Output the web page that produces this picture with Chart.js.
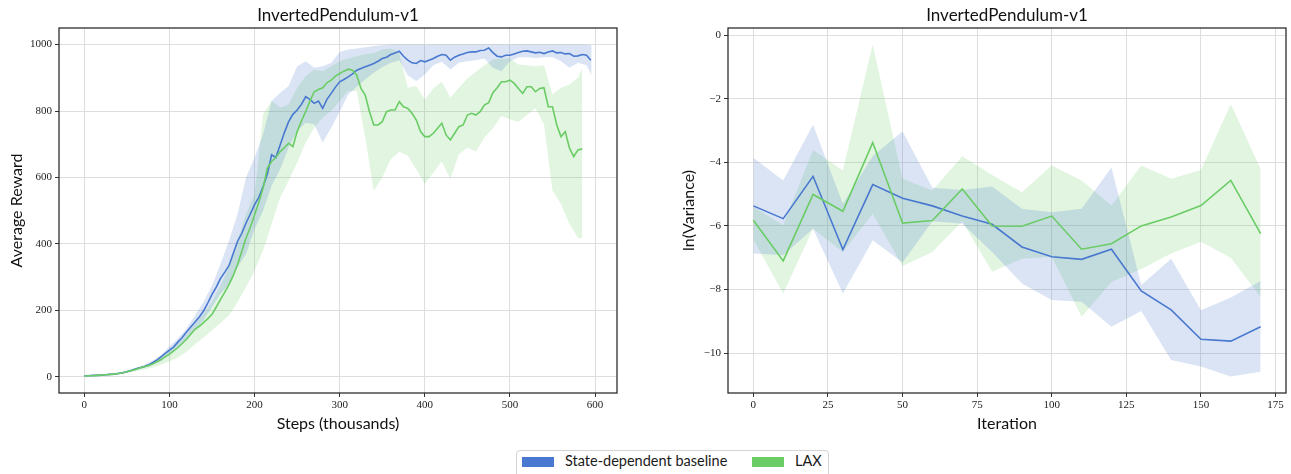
<!DOCTYPE html>
<html><head><meta charset="utf-8">
<script src="https://cdn.jsdelivr.net/npm/chart.js@4.4.1/dist/chart.umd.min.js"></script>
<style>
html,body{margin:0;padding:0;background:#fff;}
#wrap{position:relative;width:1291px;height:474px;overflow:hidden;background:#fff;}
#c1{position:absolute;left:0;top:0;}
#c2{position:absolute;left:650px;top:0;}
#legend{position:absolute;left:516px;top:450px;width:313px;height:32px;border:1px solid #d4d4d4;border-radius:4px;box-sizing:border-box;background:#fff;font-family:Lato, sans-serif;font-size:14.5px;color:#1a1a1a;}
.sw{position:absolute;top:5.7px;width:32px;height:10px;}
.lb{position:absolute;top:0;line-height:20px;white-space:nowrap;}
</style></head>
<body><div id="wrap"><canvas id="c1" width="640" height="440"></canvas><canvas id="c2" width="641" height="440"></canvas><div id="legend"></div></div>
<script>
// ---------- Left chart data (steps in thousands) ----------
const blueSteps = [0,5,10,15,20,25,30,35,40,45,50,55,60,65,70,75,80,85,90,95,100,105,110,115,120,125,130,135,140,145,150,155,160,165,170,175,180,185,190,195,200,205,210,215,220,225,230,235,240,245,250,255,260,265,270,275,280,285,290,295,300,305,310,315,320,325,330,335,340,345,350,355,360,365,370,375,380,385,390,395,400,405,410,415,420,425,430,435,440,445,450,455,460,465,470,475,480,485,490,495,500,505,510,515,520,525,530,535,540,545,550,555,560,565,570,575,580,585,590,595];
const blueMean = [3,3,4,4,5,6,7,8,10,12,
15,19,23,27,30,35,42,50,60,70,
80,90,105,118,135,150,165,180,198,222,
248,270,296,315,335,372,408,432,463,490,
518,540,573,610,668,660,698,735,768,790,
803,820,843,835,823,830,808,835,853,872,
888,895,903,912,923,928,933,938,943,950,
958,962,970,975,980,965,953,945,943,952,
948,953,958,965,970,968,953,962,968,972,
976,978,978,982,983,990,976,965,963,968,
968,972,976,980,981,978,975,977,973,978,
981,975,976,972,973,965,966,970,968,953];
const greenSteps = [0,5,10,15,20,25,30,35,40,45,50,55,60,65,70,75,80,85,90,95,100,105,110,115,120,125,130,135,140,145,150,155,160,165,170,175,180,185,190,195,200,205,210,215,220,225,230,235,240,245,250,255,260,265,270,275,280,285,290,295,300,305,310,315,320,325,330,335,340,345,350,355,360,365,370,375,380,385,390,395,400,405,410,415,420,425,430,435,440,445,450,455,460,465,470,475,480,485,490,495,500,505,510,515,520,525,530,535,540,545,550,555,560,565,570,575,580,585];
const greenMean = [2,3,3,4,5,6,7,8,10,12,
15,19,22,26,30,33,38,45,52,60,
68,78,88,100,113,128,143,152,163,175,
188,210,233,255,278,305,338,378,418,450,
488,525,568,628,648,660,678,690,703,693,
738,770,798,830,858,865,870,885,893,905,
913,920,926,923,908,868,848,798,758,758,
768,798,803,803,828,813,808,793,773,738,
723,723,733,748,763,728,713,733,753,758,
788,793,788,798,818,825,855,870,888,888,
893,883,868,853,873,873,858,868,870,813,
813,758,723,738,688,663,683,686];
const blueBandSteps = [0,10,20,30,40,50,60,70,80,90,100,110,120,130,140,150,160,170,180,190,200,210,220,230,240,250,260,270,280,290,300,310,320,330,340,350,360,370,380,390,400,410,420,430,440,450,460,470,480,490,500,510,520,530,540,550,560,570,580,590,596];
const blueUpper = [5,6,7,9,12,18,26,35,48,65,
92,115,145,185,225,275,340,410,490,600,
660,730,830,855,875,935,950,930,935,945,
978,985,988,992,996,998,1000,1000,1000,1000,
1000,1000,1000,1000,1000,1000,1000,1000,1000,1000,
1000,1000,1000,1000,1000,1000,1000,1000,1000,1000,998];
const blueLower = [2,3,4,5,8,12,20,26,36,46,
68,90,115,140,170,210,250,280,330,370,
445,500,575,625,690,740,765,760,705,750,
798,850,873,895,915,932,945,953,908,890,
910,938,948,925,945,950,953,958,930,920,
950,962,962,960,962,963,950,930,945,938,908];
const greenBandSteps = [0,10,20,30,40,50,60,70,80,90,100,110,120,130,140,150,160,170,180,190,200,210,220,230,240,250,260,270,280,290,300,310,320,330,340,350,360,370,380,390,400,410,420,430,440,450,460,470,480,490,500,510,520,530,540,550,560,570,580,585];
const greenUpper = [4,5,6,8,12,18,26,34,44,60,
80,102,128,160,190,225,275,330,410,490,
550,790,830,810,820,870,905,925,920,935,
950,958,965,972,975,985,988,975,870,875,
835,868,888,840,870,898,918,938,955,958,
958,940,938,935,938,850,870,880,900,930];
const greenLower = [1,1,2,4,7,11,16,22,28,36,
46,58,75,98,118,140,162,185,225,270,
320,380,460,540,590,645,705,750,780,800,
830,860,860,720,560,600,655,678,665,625,
580,615,648,595,670,690,678,720,748,785,
775,768,788,808,760,560,520,460,418,418];
const leftXTicks = [0,100,200,300,400,500,600];
const leftYTicks = [0,200,400,600,800,1000];

// ---------- Right chart data (iterations) ----------
const iterations = [0,10,20,30,40,50,60,70,80,90,100,110,120,130,140,150,160,170];
const blueVarMean  = [-5.37,-5.77,-4.44,-6.74,-4.70,-5.13,-5.37,-5.69,-5.95,-6.66,-6.97,-7.05,-6.73,-8.04,-8.64,-9.56,-9.62,-9.17];
const blueVarUpper = [-3.86,-4.57,-2.82,-5.30,-3.80,-3.03,-4.80,-4.87,-4.76,-5.46,-5.57,-5.46,-4.16,-7.86,-7.03,-8.65,-8.25,-7.73];
const blueVarLower = [-6.87,-6.92,-6.09,-8.12,-6.45,-7.15,-5.85,-5.93,-6.82,-7.81,-8.33,-8.38,-9.17,-8.67,-10.21,-10.42,-10.73,-10.58];
const greenVarMean  = [-5.82,-7.10,-5.01,-5.54,-3.38,-5.91,-5.83,-4.84,-6.00,-6.01,-5.69,-6.73,-6.56,-6.00,-5.72,-5.36,-4.57,-6.24];
const greenVarUpper = [-5.40,-5.98,-3.61,-4.26,-0.30,-4.52,-4.89,-3.81,-4.40,-4.94,-4.10,-4.57,-5.36,-4.10,-4.52,-4.24,-2.17,-4.21];
const greenVarLower = [-6.43,-8.12,-6.09,-6.82,-5.62,-7.26,-6.82,-5.85,-7.44,-7.03,-6.97,-8.85,-7.76,-7.35,-6.87,-6.50,-7.00,-8.23];
const rightXTicks = [0,25,50,75,100,125,150,175];
const rightYTicks = [0,-2,-4,-6,-8,-10];

const seriesNames = ['State-dependent baseline','LAX'];
const chartTitle = 'InvertedPendulum-v1';

// ---------- styling ----------
const BLUE = '#4878CF', GREEN = '#6ACC65';
const BLUE_FILL = 'rgba(72,120,207,0.2)', GREEN_FILL = 'rgba(106,204,101,0.2)';
const pts = (xs, ys) => ys.map((y, i) => ({x: xs[i], y}));
const fmt = v => String(v).replace('-', '\u2212');

const framePlugin = {
  id: 'frame',
  afterDraw(chart) {
    const {ctx, chartArea: a} = chart;
    ctx.save();
    ctx.strokeStyle = '#262626';
    ctx.lineWidth = 1.25;
    ctx.strokeRect(a.left, a.top, a.right - a.left, a.bottom - a.top);
    ctx.restore();
  }
};

function lineDs(label, xs, ys, color) {
  return {label, data: pts(xs, ys), borderColor: color, backgroundColor: color, borderWidth: 1.6,
          pointRadius: 0, fill: false, tension: 0};
}
function bandDs(xs, ys, fill, color) {
  return {label: '', data: pts(xs, ys), borderColor: 'transparent', borderWidth: 0, pointRadius: 0,
          fill: fill, backgroundColor: color || 'transparent', tension: 0};
}

function makeConfig(o) {
  const tickFont = {family: '"Liberation Serif", "DejaVu Serif", serif', size: 11};
  const gridCfg = {color: '#dedede', lineWidth: 1, drawTicks: true, tickLength: 4, tickColor: '#333', tickWidth: 1};
  return {
    type: 'line',
    data: {datasets: o.datasets},
    options: {
      responsive: false, animation: false, events: [],
      layout: {padding: {left: 0, right: o.padRight, top: 0, bottom: 0}},
      plugins: {
        legend: {display: false}, tooltip: {enabled: false},
        title: {display: true, text: chartTitle, fullSize: false, color: '#111',
                font: {family: 'Lato, sans-serif', size: 17, weight: 'normal'}, padding: {top: 5, bottom: 2.6}}
      },
      scales: {
        x: {type: 'linear', min: o.xMin, max: o.xMax,
            afterBuildTicks: s => { s.ticks = o.xTicks.map(v => ({value: v})); },
            afterFit: s => { s.height = 47; },
            grid: gridCfg, border: {display: false},
            ticks: {font: tickFont, color: '#222', padding: 2, maxRotation: 0, autoSkip: false, callback: v => fmt(v)},
            title: {display: true, text: o.xTitle, color: '#111', font: {family: 'Lato, sans-serif', size: 16}, padding: {top: 0, bottom: 7}}
        },
        y: {type: 'linear', min: o.yMin, max: o.yMax,
            afterBuildTicks: s => { s.ticks = o.yTicks.map(v => ({value: v})); },
            afterFit: s => { s.width = o.yWidth; },
            grid: gridCfg, border: {display: false},
            ticks: {font: tickFont, color: '#222', padding: 3, autoSkip: false, callback: v => fmt(v)},
            title: {display: true, text: o.yTitle, color: '#111', font: {family: 'Lato, sans-serif', size: 16}, padding: {top: o.yTitlePad, bottom: 0}}
        }
      }
    },
    plugins: [framePlugin]
  };
}

const leftChart = new Chart(document.getElementById('c1'), makeConfig({
  datasets: [
    lineDs(seriesNames[1], greenSteps, greenMean, GREEN),
    lineDs(seriesNames[0], blueSteps, blueMean, BLUE),
    bandDs(blueBandSteps, blueLower, false),
    bandDs(blueBandSteps, blueUpper, '-1', BLUE_FILL),
    bandDs(greenBandSteps, greenLower, false),
    bandDs(greenBandSteps, greenUpper, '-1', GREEN_FILL)
  ],
  padRight: 23, yWidth: 59, yTitlePad: 7.4,
  xMin: -29.8, xMax: 625.8, yMin: -48.95, yMax: 1049.95,
  xTicks: leftXTicks, yTicks: leftYTicks,
  xTitle: 'Steps (thousands)', yTitle: 'Average Reward'
}));

const rightChart = new Chart(document.getElementById('c2'), makeConfig({
  datasets: [
    lineDs(seriesNames[1], iterations, greenVarMean, GREEN),
    lineDs(seriesNames[0], iterations, blueVarMean, BLUE),
    bandDs(iterations, blueVarLower, false),
    bandDs(iterations, blueVarUpper, '-1', BLUE_FILL),
    bandDs(iterations, greenVarLower, false),
    bandDs(iterations, greenVarUpper, '-1', GREEN_FILL)
  ],
  padRight: 5, yWidth: 78, yTitlePad: 29.4,
  xMin: -8.5, xMax: 178.5, yMin: -11.25, yMax: 0.22,
  xTicks: rightXTicks, yTicks: rightYTicks,
  xTitle: 'Iteration', yTitle: 'ln(Variance)'
}));

// ---------- shared legend built from the datasets ----------
const legendEl = document.getElementById('legend');
const legendItems = [leftChart.data.datasets[1], leftChart.data.datasets[0]];
const swatchX = [4.7, 234.7], labelX = [48, 278];
legendItems.forEach((ds, i) => {
  const sw = document.createElement('div');
  sw.className = 'sw'; sw.style.left = swatchX[i] + 'px'; sw.style.background = ds.borderColor;
  const lb = document.createElement('div');
  lb.className = 'lb'; lb.style.left = labelX[i] + 'px'; lb.textContent = ds.label;
  legendEl.appendChild(sw); legendEl.appendChild(lb);
});
</script>
</body></html>
